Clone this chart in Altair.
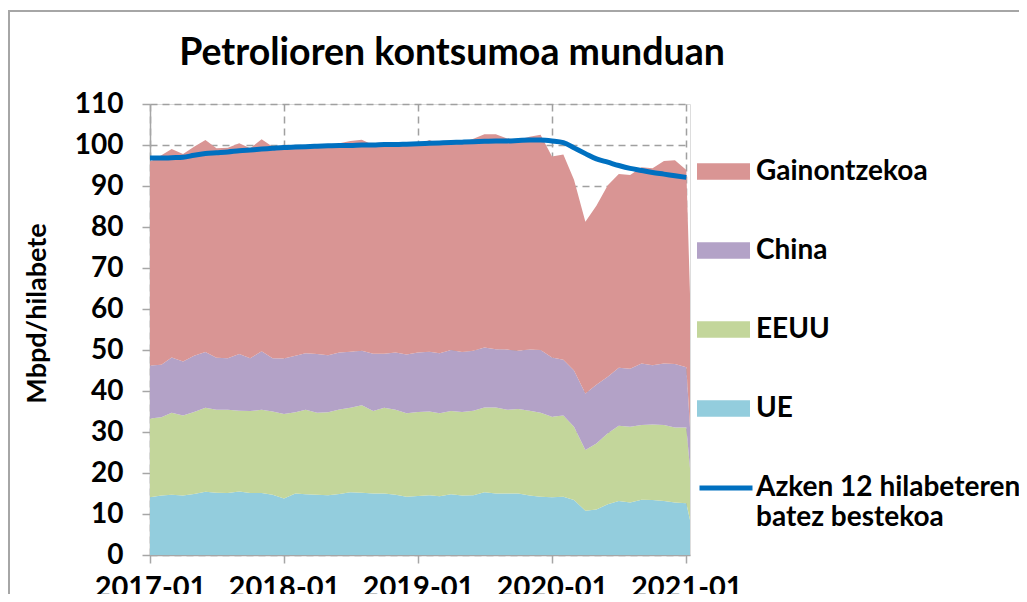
import altair as alt
import pandas as pd

# month labels 2017-01 .. 2021-02
months = [f"{y}-{m:02d}" for y in range(2017, 2022) for m in range(1, 13)][:50]
tick_years = [2017, 2018, 2019, 2020, 2021]

series_names = ["UE", "EEUU", "China", "Gainontzekoa"]

ue = [14.1, 14.5, 14.7, 14.5, 14.9, 15.4, 15.2, 15.1, 15.5, 15.1, 15.1, 14.7,
      13.8, 15.0, 14.8, 14.7, 14.6, 14.9, 15.3, 15.2, 15.0, 15.0, 14.7, 14.2,
      14.4, 14.6, 14.3, 14.8, 14.5, 14.6, 15.3, 15.0, 15.0, 15.0, 14.5, 14.2,
      14.1, 14.2, 13.4, 10.8, 11.1, 12.4, 13.2, 12.8, 13.5, 13.4, 13.2, 12.8,
      12.6, 0.0]
eeuu = [19.2, 19.1, 20.0, 19.5, 20.0, 20.5, 20.2, 20.3, 19.7, 20.0, 20.3, 20.3,
        20.6, 19.8, 20.6, 20.0, 20.2, 20.6, 20.6, 21.3, 20.1, 20.9, 20.7, 20.4,
        20.5, 20.4, 20.3, 20.3, 20.4, 20.6, 20.7, 21.0, 20.4, 20.6, 20.7, 20.5,
        19.6, 19.8, 17.9, 14.8, 16.1, 17.3, 18.3, 18.5, 18.2, 18.4, 18.5, 18.3,
        18.5, 0.0]
china = [12.9, 12.8, 13.5, 13.2, 13.7, 13.6, 12.7, 12.6, 13.8, 12.9, 14.3, 13.0,
         13.5, 13.8, 13.8, 14.3, 13.9, 13.9, 13.7, 13.3, 14.0, 13.2, 14.0, 14.3,
         14.5, 14.6, 14.6, 14.9, 14.6, 14.6, 14.6, 14.2, 14.7, 14.2, 14.9, 15.3,
         14.5, 13.6, 13.7, 13.8, 14.3, 13.8, 14.2, 14.1, 15.0, 14.5, 15.0, 15.5,
         14.7, 0.0]
gainontzekoa = [49.7, 51.1, 50.8, 50.6, 51.0, 51.7, 51.1, 51.3, 51.4, 51.2, 51.7, 51.6,
                52.1, 50.8, 50.4, 50.5, 51.1, 51.0, 51.4, 51.5, 50.9, 51.1, 50.6, 50.9,
                50.6, 51.6, 51.0, 50.5, 51.1, 51.7, 52.0, 52.4, 51.5, 51.5, 51.9, 52.5,
                49.0, 50.1, 46.5, 41.9, 43.7, 46.7, 47.2, 47.3, 47.9, 48.0, 49.4, 49.7,
                48.1, 0.0]
avg12 = [96.8, 96.8, 96.9, 97.0, 97.5, 97.9, 98.1, 98.3, 98.6, 98.8, 99.0, 99.2,
         99.4, 99.5, 99.6, 99.7, 99.8, 99.9, 99.9, 100.0, 100.0, 100.1, 100.1, 100.2,
         100.3, 100.4, 100.5, 100.6, 100.7, 100.8, 100.9, 101.0, 101.0, 101.1, 101.2, 101.2,
         101.0, 100.6, 99.3, 97.9, 96.6, 95.8, 95.0, 94.3, 93.8, 93.3, 92.9, 92.5,
         92.1]

legend_order = ["Gainontzekoa", "China", "EEUU", "UE"]
colors = ["#D99594", "#B3A2C7", "#C3D69B", "#93CDDD"]

rows = []
for k, (name, vals) in enumerate(zip(series_names, [ue, eeuu, china, gainontzekoa])):
    for d, v in zip(months, vals):
        rows.append({"date": d, "series": name, "value": v, "ord": k})
df_area = pd.DataFrame(rows)
df_line = pd.DataFrame({"date": months[:len(avg12)], "avg": avg12,
                        "name": "Azken 12 hilabeteren|batez bestekoa"})

FONT = "Lato"
GRAY = "#A6A6A6"

x_scale = alt.Scale(type="utc",
                    domain=[alt.DateTime(year=2017, month=1, date=1, utc=True),
                            alt.DateTime(year=2021, month=1, date=11, utc=True)])
x_axis = alt.Axis(values=[alt.DateTime(year=y, month=1, date=1, utc=True) for y in tick_years],
                  format="%Y-%m", labelFlush=False, labelOverlap=False,
                  labelFont=FONT, labelFontSize=29, labelFontWeight="bold", labelColor="black",
                  labelPadding=10, tickSize=8, tickColor=GRAY, tickWidth=1.5,
                  domainColor=GRAY, domainWidth=1.5,
                  grid=True, gridColor="#A0A0A0", gridDash=[7, 5], gridWidth=1.5)
y_scale = alt.Scale(domain=[0, 110], nice=False)
y_axis = alt.Axis(values=list(range(0, 111, 10)),
                  labelFont=FONT, labelFontSize=28, labelFontWeight="bold", labelColor="black",
                  labelPadding=19, tickSize=8, tickColor=GRAY, tickWidth=1.5,
                  domainColor=GRAY, domainWidth=1.5,
                  grid=True, gridColor="#A0A0A0", gridDash=[7, 5], gridWidth=1.5,
                  titleFont=FONT, titleFontSize=27, titleFontWeight="bold", titleColor="black",
                  titleAngle=270, titleAlign="center", titleBaseline="bottom",
                  titleX=-99, titleY=209)

YTITLE = "Mbpd/hilabete"

areas = alt.Chart(df_area).mark_area(clip=True, opacity=1).encode(
    x=alt.X("date:T", scale=x_scale, axis=x_axis, title=None),
    y=alt.Y("value:Q", stack="zero", scale=y_scale, axis=y_axis, title=YTITLE),
    color=alt.Color("series:N",
                    scale=alt.Scale(domain=legend_order, range=colors),
                    legend=alt.Legend(title=None, orient="none", legendX=547, legendY=41,
                                      symbolType="M-1,-0.315H1V0.315H-1Z", symbolSize=2809,
                                      symbolStrokeWidth=0, symbolOpacity=1,
                                      labelFont=FONT, labelFontSize=28, labelFontWeight="bold",
                                      labelColor="black", labelOffset=6, labelLimit=400,
                                      rowPadding=38)),
    order=alt.Order("ord:Q", sort="ascending"),
)

line = alt.Chart(df_line).mark_line(strokeWidth=5, interpolate="monotone").encode(
    x=alt.X("date:T", scale=x_scale, axis=x_axis, title=None),
    y=alt.Y("avg:Q", scale=y_scale, axis=y_axis, title=YTITLE),
    stroke=alt.Stroke("name:N", scale=alt.Scale(range=["#0070C0"]),
                      legend=alt.Legend(title=None, orient="none", legendX=547, legendY=355,
                                        symbolType="stroke", symbolSize=2809,
                                        symbolStrokeWidth=5,
                                        labelExpr="split(datum.label, '|')",
                                        labelFont=FONT, labelFontSize=28, labelFontWeight="bold",
                                        labelColor="black", labelOffset=1, labelLimit=400,
                                        labelBaseline="middle")),
)

frame = alt.Chart(alt.Data(values=[{"a": 1}])).mark_rect(
    fillOpacity=0, stroke=GRAY, strokeWidth=2
).encode(x=alt.value(-141), y=alt.value(-93), x2=alt.value(1100), y2=alt.value(700))

chart = alt.layer(frame, areas, line).properties(
    width=540, height=451,
    autosize="none",
    padding={"left": 142, "top": 96, "right": 329, "bottom": 39},
    title=alt.TitleParams("Petrolioren kontsumoa munduan", font=FONT, fontSize=37.5,
                          fontWeight="bold", color="black", anchor="middle",
                          baseline="alphabetic", frame="group", dx=32, offset=0, dy=92),
).resolve_scale(color="independent").configure_view(stroke=None).configure(background="white")

chart.save("out.html", embed_options={"renderer": "svg", "actions": False})
